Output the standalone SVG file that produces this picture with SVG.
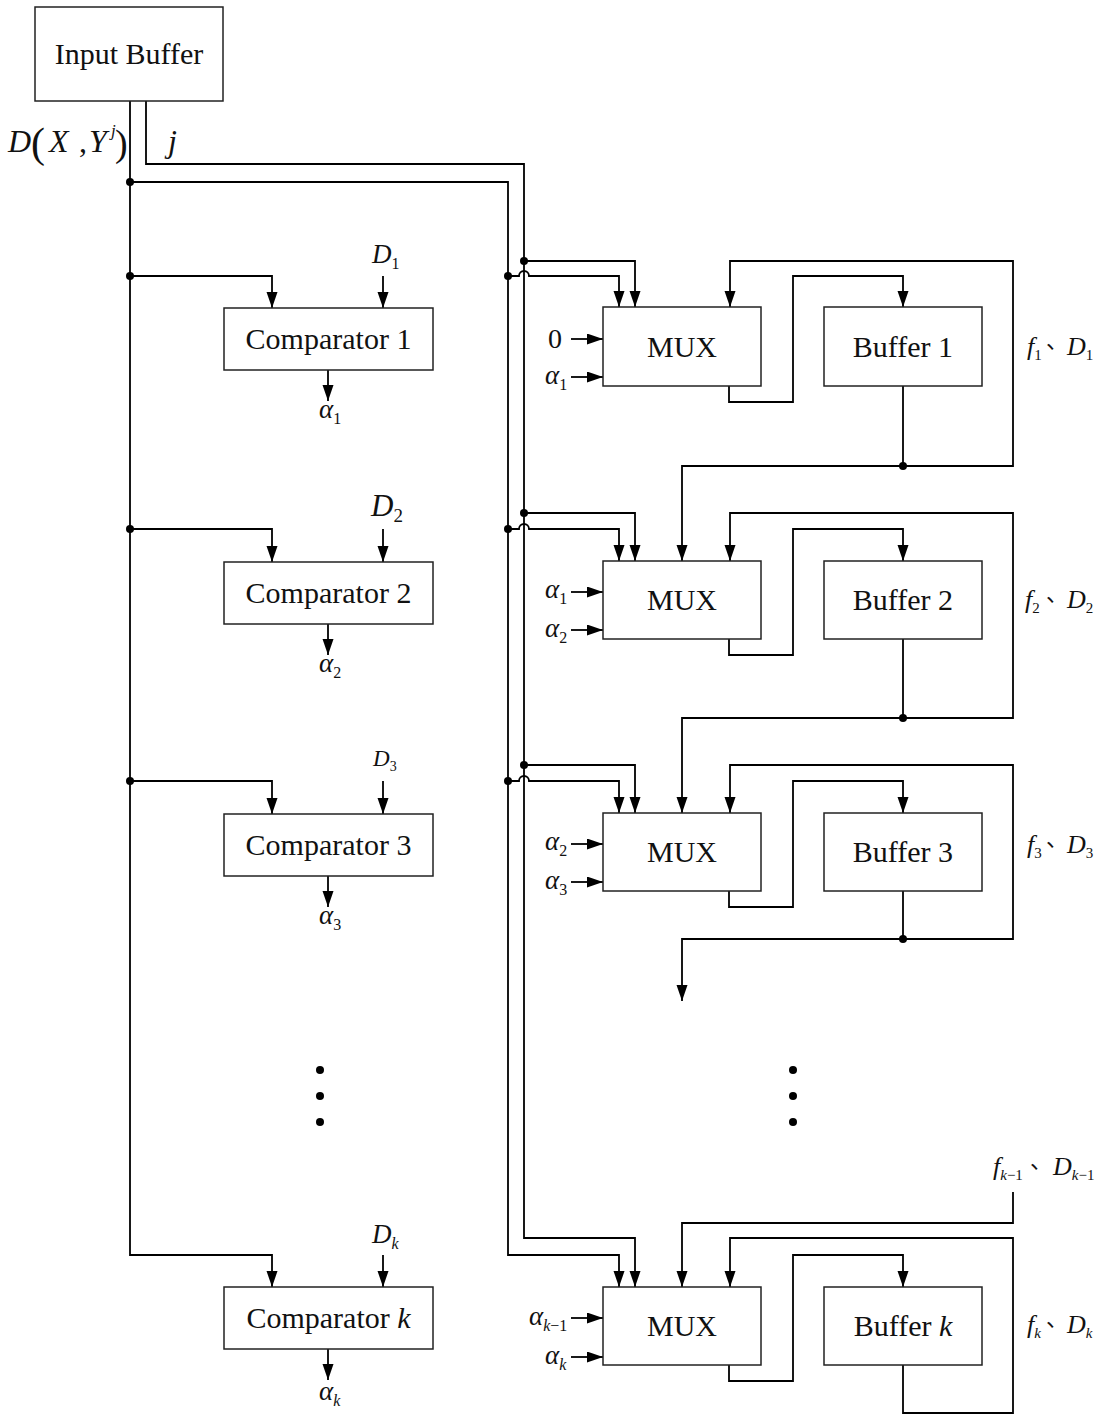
<svg xmlns="http://www.w3.org/2000/svg" width="1107" height="1416" viewBox="0 0 1107 1416">
<defs>
<marker id="ah" markerUnits="userSpaceOnUse" markerWidth="17" markerHeight="12" refX="16" refY="5.5" orient="auto">
<path d="M0,0 L16,5.5 L0,11 z" fill="#000"/>
</marker>
<style>
.box{fill:#fff;stroke:#222;stroke-width:1.5}
.ln{fill:none;stroke:#000;stroke-width:1.8}
.ar{fill:none;stroke:#000;stroke-width:1.8;marker-end:url(#ah)}
.t{font-family:"Liberation Serif","Times New Roman",serif;font-size:30px;fill:#111}
.m{font-family:"Liberation Serif","Times New Roman",serif;fill:#111}
.it{font-style:italic}
.cjk{font-family:"Noto Sans CJK SC","Noto Sans CJK JP",sans-serif}
.dot{fill:#000}
</style>
</defs>
<rect width="1107" height="1416" fill="#fff"/>

<g id="connectors">
<path class="ar" d="M130,101 V1255 H272 V1287"/>
<path class="ar" d="M130,276 H272 V308"/>
<path class="ar" d="M130,529 H272 V562"/>
<path class="ar" d="M130,781 H272 V814"/>
<path class="ar" d="M130,182 H508 V1255 H619 V1287"/>
<path class="ar" d="M146,101 V164 H524 V1238 H635 V1287"/>
<path class="ar" d="M524,261 H635 V307"/>
<path class="ar" d="M508,276 H519 A5,5 0 0 1 529,276 H619 V307"/>
<path class="ar" d="M524,513 H635 V561"/>
<path class="ar" d="M508,529 H519 A5,5 0 0 1 529,529 H619 V561"/>
<path class="ar" d="M524,765 H635 V813"/>
<path class="ar" d="M508,781 H519 A5,5 0 0 1 529,781 H619 V813"/>
<path class="ln" d="M903,386 V466"/>
<path class="ar" d="M903,466 H1013 V261 H730 V307"/>
<path class="ar" d="M903,466 H682 V561"/>
<path class="ar" d="M729,386 V402 H793 V276 H903 V307"/>
<path class="ln" d="M903,639 V718"/>
<path class="ar" d="M903,718 H1013 V513 H730 V561"/>
<path class="ar" d="M903,718 H682 V813"/>
<path class="ar" d="M729,639 V655 H793 V529 H903 V561"/>
<path class="ln" d="M903,891 V939"/>
<path class="ar" d="M903,939 H1013 V765 H730 V813"/>
<path class="ar" d="M903,939 H682 V1001"/>
<path class="ar" d="M729,891 V907 H793 V781 H903 V813"/>
<path class="ar" d="M1013,1192 V1223 H682 V1287"/>
<path class="ar" d="M903,1365 V1413 H1013 V1238 H730 V1287"/>
<path class="ar" d="M729,1365 V1381 H793 V1255 H903 V1287"/>
<path class="ar" d="M383,276 V308"/>
<path class="ar" d="M383,529 V562"/>
<path class="ar" d="M383,781 V814"/>
<path class="ar" d="M383,1255 V1287"/>
<path class="ar" d="M328,370 V401"/>
<path class="ar" d="M328,624 V655"/>
<path class="ar" d="M328,876 V907"/>
<path class="ar" d="M328,1349 V1380"/>
<path class="ar" d="M571,339 H603"/>
<path class="ar" d="M571,377 H603"/>
<path class="ar" d="M571,592 H603"/>
<path class="ar" d="M571,630 H603"/>
<path class="ar" d="M571,844 H603"/>
<path class="ar" d="M571,882 H603"/>
<path class="ar" d="M571,1318 H603"/>
<path class="ar" d="M571,1357 H603"/>
<circle class="dot" cx="130" cy="182" r="4"/>
<circle class="dot" cx="130" cy="276" r="4"/>
<circle class="dot" cx="130" cy="529" r="4"/>
<circle class="dot" cx="130" cy="781" r="4"/>
<circle class="dot" cx="524" cy="261" r="4"/>
<circle class="dot" cx="508" cy="276" r="4"/>
<circle class="dot" cx="524" cy="513" r="4"/>
<circle class="dot" cx="508" cy="529" r="4"/>
<circle class="dot" cx="524" cy="765" r="4"/>
<circle class="dot" cx="508" cy="781" r="4"/>
<circle class="dot" cx="903" cy="466" r="4"/>
<circle class="dot" cx="903" cy="718" r="4"/>
<circle class="dot" cx="903" cy="939" r="4"/>
</g>

<g id="input-buffer">
<rect class="box" x="35" y="7" width="188" height="94"/>
<text class="t" x="129" y="64" text-anchor="middle">Input Buffer</text>
</g>

<g id="input-labels">
<text class="m" y="152" font-size="32"><tspan class="it" x="8">D</tspan><tspan x="31" y="157" font-size="42">(</tspan><tspan class="it" x="49" y="152" font-size="32">X</tspan><tspan x="79" font-size="32">,</tspan><tspan class="it" x="89" font-size="32">Y</tspan><tspan class="it" x="111" y="136" font-size="17">j</tspan><tspan x="115" y="156" font-size="38">)</tspan></text>
<text class="m it" x="168" y="152" font-size="32">j</text>
</g>

<g id="comparator-1">
<rect class="box" x="224" y="308" width="209" height="62"/>
<text class="t" x="328.5" y="349" text-anchor="middle">Comparator 1</text>
<text class="m" x="372" y="263" font-size="27"><tspan class="it">D</tspan><tspan dy="6" font-size="16">1</tspan></text>
<text class="m" x="319" y="418" font-size="27"><tspan class="it">α</tspan><tspan dy="6" font-size="16">1</tspan></text>
</g>
<g id="comparator-2">
<rect class="box" x="224" y="562" width="209" height="62"/>
<text class="t" x="328.5" y="603" text-anchor="middle">Comparator 2</text>
<text class="m" x="371" y="516" font-size="31"><tspan class="it">D</tspan><tspan dy="6" font-size="19">2</tspan></text>
<text class="m" x="319" y="672" font-size="27"><tspan class="it">α</tspan><tspan dy="6" font-size="16">2</tspan></text>
</g>
<g id="comparator-3">
<rect class="box" x="224" y="814" width="209" height="62"/>
<text class="t" x="328.5" y="855" text-anchor="middle">Comparator 3</text>
<text class="m" x="373" y="766" font-size="23"><tspan class="it">D</tspan><tspan dy="5" font-size="14">3</tspan></text>
<text class="m" x="319" y="924" font-size="27"><tspan class="it">α</tspan><tspan dy="6" font-size="16">3</tspan></text>
</g>
<g id="comparator-k">
<rect class="box" x="224" y="1287" width="209" height="62"/>
<text class="t" x="328.5" y="1328" text-anchor="middle">Comparator <tspan class="it">k</tspan></text>
<text class="m" x="372" y="1243" font-size="27"><tspan class="it">D</tspan><tspan class="it" dy="6" font-size="16">k</tspan></text>
<text class="m" x="319" y="1400" font-size="27"><tspan class="it">α</tspan><tspan class="it" dy="6" font-size="16">k</tspan></text>
</g>

<g id="mux-1">
<rect class="box" x="603" y="307" width="158" height="79"/>
<text class="t" x="682" y="357" text-anchor="middle">MUX</text>
<text class="m" x="562" y="348" font-size="28" text-anchor="end">0</text>
<text class="m" x="545" y="384" font-size="27"><tspan class="it">α</tspan><tspan dy="6" font-size="16">1</tspan></text>
</g>
<g id="mux-2">
<rect class="box" x="603" y="561" width="158" height="78"/>
<text class="t" x="682" y="610" text-anchor="middle">MUX</text>
<text class="m" x="545" y="598" font-size="27"><tspan class="it">α</tspan><tspan dy="6" font-size="16">1</tspan></text>
<text class="m" x="545" y="637" font-size="27"><tspan class="it">α</tspan><tspan dy="6" font-size="16">2</tspan></text>
</g>
<g id="mux-3">
<rect class="box" x="603" y="813" width="158" height="78"/>
<text class="t" x="682" y="862" text-anchor="middle">MUX</text>
<text class="m" x="545" y="850" font-size="27"><tspan class="it">α</tspan><tspan dy="6" font-size="16">2</tspan></text>
<text class="m" x="545" y="889" font-size="27"><tspan class="it">α</tspan><tspan dy="6" font-size="16">3</tspan></text>
</g>
<g id="mux-k">
<rect class="box" x="603" y="1287" width="158" height="78"/>
<text class="t" x="682" y="1336" text-anchor="middle">MUX</text>
<text class="m" x="529" y="1325" font-size="27"><tspan class="it">α</tspan><tspan class="it" dy="6" font-size="16">k</tspan><tspan font-size="16">−1</tspan></text>
<text class="m" x="545" y="1364" font-size="27"><tspan class="it">α</tspan><tspan class="it" dy="6" font-size="16">k</tspan></text>
</g>

<g id="buffer-1">
<rect class="box" x="824" y="307" width="158" height="79"/>
<text class="t" x="903" y="357" text-anchor="middle">Buffer 1</text>
</g>
<g id="buffer-2">
<rect class="box" x="824" y="561" width="158" height="78"/>
<text class="t" x="903" y="610" text-anchor="middle">Buffer 2</text>
</g>
<g id="buffer-3">
<rect class="box" x="824" y="813" width="158" height="78"/>
<text class="t" x="903" y="862" text-anchor="middle">Buffer 3</text>
</g>
<g id="buffer-k">
<rect class="box" x="824" y="1287" width="158" height="78"/>
<text class="t" x="903" y="1336" text-anchor="middle">Buffer <tspan class="it">k</tspan></text>
</g>

<g id="right-labels">
<text class="m" x="1027" y="355" font-size="26"><tspan class="it">f</tspan><tspan dy="5" font-size="15">1</tspan><tspan class="cjk" x="1046" y="348" font-size="22">、</tspan><tspan class="it" x="1067" y="355">D</tspan><tspan dy="5" font-size="15">1</tspan></text>
<text class="m" x="1025" y="608" font-size="26"><tspan class="it">f</tspan><tspan dy="5" font-size="15">2</tspan><tspan class="cjk" x="1046" y="601" font-size="22">、</tspan><tspan class="it" x="1067" y="608">D</tspan><tspan dy="5" font-size="15">2</tspan></text>
<text class="m" x="1027" y="853" font-size="26"><tspan class="it">f</tspan><tspan dy="5" font-size="15">3</tspan><tspan class="cjk" x="1046" y="846" font-size="22">、</tspan><tspan class="it" x="1067" y="853">D</tspan><tspan dy="5" font-size="15">3</tspan></text>
<text class="m" x="1027" y="1333" font-size="26"><tspan class="it">f</tspan><tspan class="it" dy="5" font-size="15">k</tspan><tspan class="cjk" x="1046" y="1326" font-size="22">、</tspan><tspan class="it" x="1067" y="1333">D</tspan><tspan class="it" dy="5" font-size="15">k</tspan></text>
<text class="m" x="993" y="1175" font-size="26"><tspan class="it">f</tspan><tspan class="it" dy="5" font-size="15">k</tspan><tspan font-size="15">−1</tspan><tspan class="cjk" x="1030" y="1168" font-size="22">、</tspan><tspan class="it" x="1053" y="1175">D</tspan><tspan class="it" dy="5" font-size="15">k</tspan><tspan font-size="15">−1</tspan></text>
</g>

<g id="ellipsis-left">
<circle class="dot" cx="320" cy="1070" r="4"/>
<circle class="dot" cx="320" cy="1096" r="4"/>
<circle class="dot" cx="320" cy="1122" r="4"/>
</g>
<g id="ellipsis-right">
<circle class="dot" cx="793" cy="1070" r="4"/>
<circle class="dot" cx="793" cy="1096" r="4"/>
<circle class="dot" cx="793" cy="1122" r="4"/>
</g>
</svg>
